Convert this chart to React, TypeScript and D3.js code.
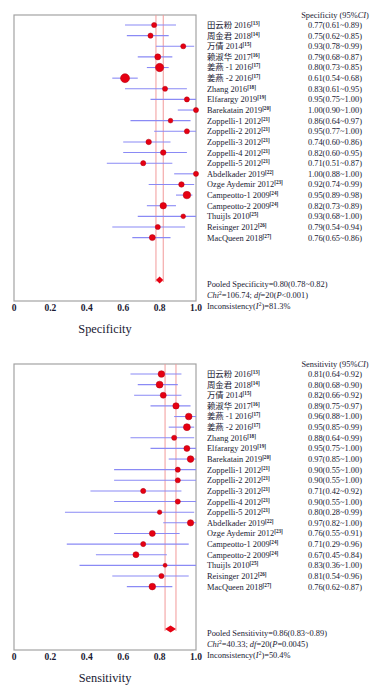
import React, { useEffect, useRef } from 'react';
import * as d3 from 'd3';

const studies = [
  '田云粉 2016', '周金君 2018', '万倩 2014', '赖淑华 2017', '姜燕 -1 2016', '姜燕 -2 2016',
  'Zhang 2016', 'Elfarargy 2019', 'Barekatain 2019', 'Zoppelli-1 2012', 'Zoppelli-2 2012',
  'Zoppelli-3 2012', 'Zoppelli-4 2012', 'Zoppelli-5 2012', 'Abdelkader 2019', 'Ozge Aydemir 2012',
  'Campeotto-1 2009', 'Campeotto-2 2009', 'Thuijls 2010', 'Reisinger 2012', 'MacQueen 2018',
];
const refs = ['13', '14', '15', '16', '17', '17', '18', '19', '20', '21', '21', '21', '21', '21', '22', '23', '24', '24', '25', '26', '27'];

// Specificity
const specEst = [0.77, 0.75, 0.93, 0.79, 0.80, 0.61, 0.83, 0.95, 1.00, 0.86, 0.95, 0.74, 0.82, 0.71, 1.00, 0.92, 0.95, 0.82, 0.93, 0.79, 0.76];
const specLow = [0.61, 0.62, 0.78, 0.68, 0.73, 0.54, 0.61, 0.75, 0.90, 0.64, 0.77, 0.60, 0.60, 0.51, 0.88, 0.74, 0.89, 0.73, 0.68, 0.54, 0.65];
const specHigh = [0.89, 0.85, 0.99, 0.87, 0.85, 0.68, 0.95, 1.00, 1.00, 0.97, 1.00, 0.86, 0.95, 0.87, 1.00, 0.99, 0.98, 0.89, 1.00, 0.94, 0.86];
const specWeight = [6.5, 6.5, 6.5, 9, 17, 20, 6.5, 6.5, 6.5, 5.5, 6.5, 7.5, 7.5, 6.5, 6.5, 7.5, 14, 10.5, 5.5, 6.5, 9];
const specPooled = [0.80, 0.78, 0.82];

// Sensitivity
const sensEst = [0.81, 0.80, 0.82, 0.89, 0.96, 0.95, 0.88, 0.95, 0.97, 0.90, 0.90, 0.71, 0.90, 0.80, 0.97, 0.76, 0.71, 0.67, 0.83, 0.81, 0.76];
const sensLow = [0.64, 0.68, 0.66, 0.75, 0.88, 0.85, 0.64, 0.75, 0.85, 0.55, 0.55, 0.42, 0.55, 0.28, 0.82, 0.55, 0.29, 0.45, 0.36, 0.54, 0.62];
const sensHigh = [0.92, 0.90, 0.92, 0.97, 1.00, 0.99, 0.99, 1.00, 1.00, 1.00, 1.00, 0.92, 1.00, 0.99, 1.00, 0.91, 0.96, 0.84, 1.00, 0.96, 0.87];
const sensWeight = [11, 12, 9, 10, 11, 12, 6.5, 9, 11, 6.5, 6.5, 6.5, 6.5, 5, 10, 9, 6.5, 9, 4, 6.5, 11];
const sensPooled = [0.86, 0.83, 0.89];

const xTicks = [0, 0.2, 0.4, 0.6, 0.8, 1.0];

const FONT = '"Liberation Serif", "Times New Roman", "Noto Sans CJK SC", serif';
const INK = '#1a1a33';

type Part = [string, { italic?: boolean; sup?: boolean }?];

interface PanelOpts {
  y0: number;
  name: string;
  est: number[];
  low: number[];
  high: number[];
  weight: number[];
  pooled: number[];
  chi: string;
  df: string;
  p: string;
  i2: string;
}

const richText = (sel: d3.Selection<SVGTextElement, unknown, null, undefined>, parts: Part[]) => {
  let raised = false;
  parts.forEach(([str, o]) => {
    const t = sel.append('tspan').text(str);
    if (o?.italic) t.attr('font-style', 'italic');
    if (o?.sup) {
      t.attr('font-size', 5.5).attr('dy', -3);
      raised = true;
    } else if (raised) {
      t.attr('dy', 3);
      raised = false;
    }
  });
};

const App: React.FC = () => {
  const svgRef = useRef<SVGSVGElement>(null);

  useEffect(() => {
    if (!svgRef.current) return;
    const svg = d3.select(svgRef.current);
    svg.selectAll('*').remove();

    const x = d3.scaleLinear().domain([0, 1]).range([14, 196]);
    const maxW = d3.max([...specWeight, ...sensWeight]) as number;
    const r = d3.scaleSqrt().domain([0, maxW]).range([0, 4.5]);
    const fmt = d3.format('.2f');

    const drawPanel = (o: PanelOpts) => {
      const g = svg.append('g').attr('transform', `translate(0,${o.y0})`);
      const y = d3.scaleLinear().domain([0, 20]).range([10, 10 + 20 * 10.63]);
      const boxBottom = 286;
      const yPool = 265;

      // frame
      g.append('rect')
        .attr('x', x(0)).attr('y', 0)
        .attr('width', x(1) - x(0)).attr('height', boxBottom)
        .attr('fill', 'white')
        .attr('stroke', '#a3a3a3')
        .attr('stroke-width', 1.2);

      // pooled CI reference lines
      [o.pooled[1], o.pooled[2]].forEach(v => {
        g.append('line')
          .attr('x1', x(v)).attr('x2', x(v))
          .attr('y1', 0).attr('y2', yPool + 2)
          .attr('stroke', '#f29a9a')
          .attr('stroke-width', 1);
      });

      const rows = d3.range(o.est.length);

      // CI lines
      g.selectAll('line.ci')
        .data(rows)
        .enter()
        .append('line')
        .attr('class', 'ci')
        .attr('x1', i => x(o.low[i]))
        .attr('x2', i => x(o.high[i]))
        .attr('y1', i => y(i))
        .attr('y2', i => y(i))
        .attr('stroke', '#8a8af5')
        .attr('stroke-width', 1.1);

      // point estimates
      g.selectAll('circle')
        .data(rows)
        .enter()
        .append('circle')
        .attr('cx', i => x(o.est[i]))
        .attr('cy', i => y(i))
        .attr('r', i => r(o.weight[i]))
        .attr('fill', '#e60012')
        .attr('stroke', '#b00010')
        .attr('stroke-width', 0.5);

      // pooled diamond
      const dh = 3.6;
      g.append('path')
        .attr('d', `M${x(o.pooled[1])},${yPool} L${x(o.pooled[0])},${yPool - dh} L${x(o.pooled[2])},${yPool} L${x(o.pooled[0])},${yPool + dh} Z`)
        .attr('fill', '#e60012');

      // tick labels
      g.selectAll('text.tick')
        .data(xTicks)
        .enter()
        .append('text')
        .attr('class', 'tick')
        .attr('x', d => x(d))
        .attr('y', 293)
        .attr('dy', '0.35em')
        .attr('text-anchor', 'middle')
        .attr('font-size', 9.5)
        .attr('font-weight', 'bold')
        .attr('fill', INK)
        .text(d => (d === 0 ? '0' : d.toFixed(1)));

      // axis title
      g.append('text')
        .attr('x', 105)
        .attr('y', 314)
        .attr('dy', '0.35em')
        .attr('text-anchor', 'middle')
        .attr('font-size', 12.3)
        .attr('fill', INK)
        .text(o.name);

      // column header
      const head = g.append('text')
        .attr('x', 335).attr('y', 0).attr('dy', '0.35em')
        .attr('text-anchor', 'middle')
        .attr('font-size', 8.4)
        .attr('fill', INK);
      richText(head, [[`${o.name} (95%`], ['CI', { italic: true }], [')']]);

      // study labels
      rows.forEach(i => {
        const t = g.append('text')
          .attr('x', 207).attr('y', y(i)).attr('dy', '0.35em')
          .attr('font-size', 8.4)
          .attr('fill', INK);
        t.append('tspan').text(studies[i]);
        t.append('tspan')
          .attr('font-size', 5.2)
          .attr('font-weight', 'bold')
          .attr('dy', -3)
          .text(`[${refs[i]}]`);

        g.append('text')
          .attr('x', 335).attr('y', y(i)).attr('dy', '0.35em')
          .attr('text-anchor', 'middle')
          .attr('font-size', 8.4)
          .attr('fill', INK)
          .text(`${fmt(o.est[i])}(${fmt(o.low[i])}~${fmt(o.high[i])})`);
      });

      // pooled stats
      const stat = (yy: number, parts: Part[]) => {
        const t = g.append('text')
          .attr('x', 207).attr('y', yy).attr('dy', '0.35em')
          .attr('font-size', 8.4)
          .attr('fill', INK);
        richText(t, parts);
      };
      stat(269, [[`Pooled ${o.name}=${fmt(o.pooled[0])}(${fmt(o.pooled[1])}~${fmt(o.pooled[2])})`]]);
      stat(280, [
        ['Chi', { italic: true }], ['2', { sup: true }], [`=${o.chi}; `],
        ['df', { italic: true }], [`=${o.df}(`], ['P', { italic: true }], [`${o.p})`],
      ]);
      stat(291, [['Inconsistency('], ['I', { italic: true }], ['2', { sup: true }], [`)=${o.i2}%`]]);
    };

    drawPanel({
      y0: 15, name: 'Specificity',
      est: specEst, low: specLow, high: specHigh, weight: specWeight, pooled: specPooled,
      chi: '106.74', df: '20', p: '<0.001', i2: '81.3',
    });
    drawPanel({
      y0: 364, name: 'Sensitivity',
      est: sensEst, low: sensLow, high: sensHigh, weight: sensWeight, pooled: sensPooled,
      chi: '40.33', df: '20', p: '=0.0045', i2: '50.4',
    });
  }, []);

  return (
    <div style={{ position: 'absolute', left: 0, top: 0, width: 374, height: 689, background: 'white' }}>
      <svg ref={svgRef} width={374} height={689} style={{ display: 'block', fontFamily: FONT }} />
    </div>
  );
};

export default App;
